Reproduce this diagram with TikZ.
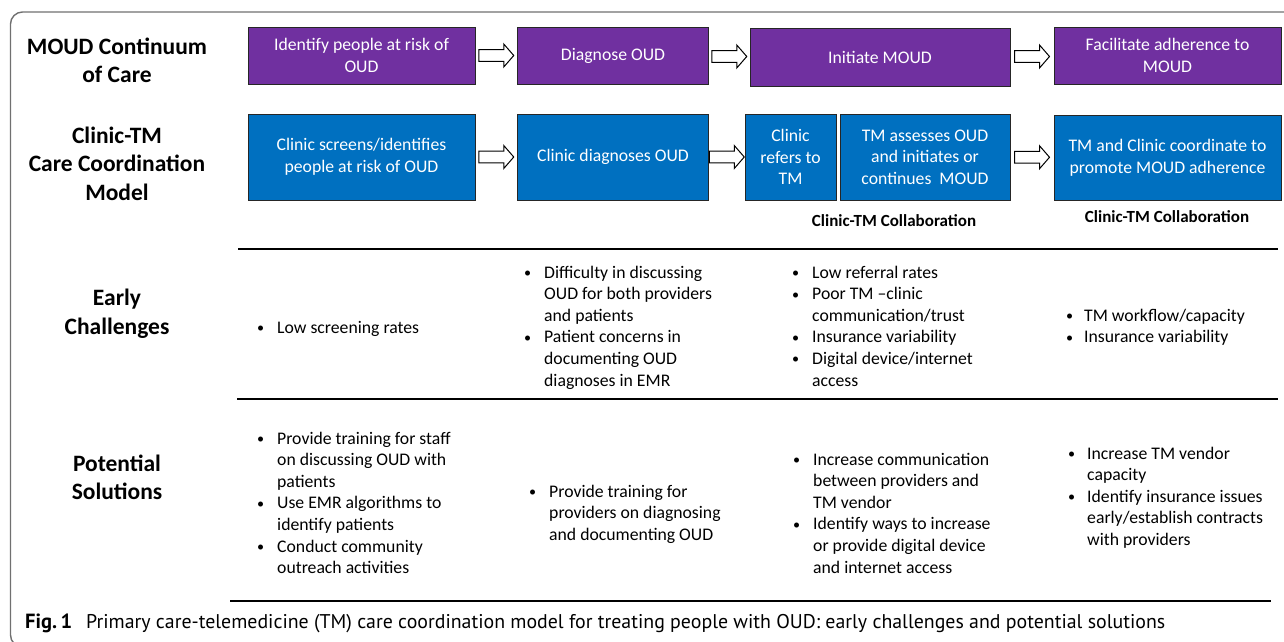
\documentclass[tikz,border=0pt]{standalone}
\usepackage{fontspec}
\setmainfont{Carlito}
\newfontfamily\capfont{PT Sans}
\usetikzlibrary{calc}
\definecolor{moudpurple}{HTML}{7030A0}
\definecolor{tmblue}{HTML}{0070C0}
\definecolor{framegray}{HTML}{707070}
\newcommand\bodyfont{\fontsize{17.7}{21.6}\selectfont}
\newcommand\blockarrow[1]{\draw[arrowshape, shift={(#1)}] (-17.5,-5.8) -- (7.5,-5.8) -- (7.5,-11.5) -- (17.5,0) -- (7.5,11.5) -- (7.5,5.8) -- (-17.5,5.8) -- cycle;}
\tikzset{
  purplebox/.style={draw=black!85, line width=1pt, fill=moudpurple, text=white, align=center, inner sep=0pt, font=\bodyfont},
  bluebox/.style={draw=black!85, line width=1pt, fill=tmblue, text=white, align=center, inner sep=0pt, font=\bodyfont},
  rowlabel/.style={align=center, font=\fontsize{23.5}{28.5}\selectfont\bfseries, inner sep=0pt},
  collab/.style={font=\fontsize{17}{20}\selectfont\bfseries, inner sep=0pt},
  listnode/.style={anchor=base west, inner sep=0pt, font=\bodyfont},
  arrowshape/.style={draw=black, line width=1pt, fill=white},
  sepline/.style={draw=black, line width=1.3pt},
}
\newcommand\bl{\raisebox{0.5pt}{\scalebox{0.8}{\textbullet}}}
\begin{document}
\begin{tikzpicture}[x=1pt,y=-1pt]
\useasboundingbox (0,0) rectangle (1284,641);
% outer frame (open on the right, runs off the page)
\coordinate (fa) at (1284,12);
\coordinate (fb) at (10.5,12);
\coordinate (fc) at (10.5,647);
\coordinate (fd) at (60,647);
\begin{scope}
\clip (0,0) rectangle (1284,641);
\draw[framegray, line width=1.4pt, rounded corners=12pt] (fa) -- (fb) -- (fc) -- (fd);
\end{scope}
% row labels
\node[rowlabel] (l1) at (117,60.5) {MOUD Continuum\\of Care};
\node[rowlabel] (l2) at (117,163.5) {Clinic-TM\\Care Coordination\\Model};
\node[rowlabel] (l3) at (117,313.5) {Early\\Challenges};
\node[rowlabel] (l4) at (117,477.5) {Potential\\Solutions};
% purple row
\node[purplebox, minimum width=227pt, minimum height=57pt] (b1) at (361.5,55.5) {Identify people at risk of\\OUD};
\node[purplebox, minimum width=191pt, minimum height=57pt] (b2) at (613,55.5) {Diagnose OUD};
\node[purplebox, minimum width=260pt, minimum height=58pt] (b3) at (880,57.5) {Initiate MOUD};
\node[purplebox, minimum width=227pt, minimum height=57pt] (b4) at (1167.5,55.5) {Facilitate adherence to\\MOUD};
\blockarrow{$(b1.east)!0.5!(b2.west)$}
\blockarrow{$(b2.east)!0.5!(b3.west)$}
\blockarrow{$(b3.east)!0.5!(b4.west)$}
% blue row
\node[bluebox, minimum width=227pt, minimum height=86pt] (c1) at (361.5,157) {Clinic screens/identifies\\people at risk of OUD};
\node[bluebox, minimum width=191pt, minimum height=86pt] (c2) at (613,157) {Clinic diagnoses OUD};
\node[bluebox, minimum width=91pt, minimum height=86pt] (c3) at (790.5,157) {Clinic\\refers to\\TM};
\node[bluebox, minimum width=170pt, minimum height=86pt] (c4) at (925,157) {TM assesses OUD\\and initiates or\\continues\ \ MOUD};
\node[bluebox, minimum width=227pt, minimum height=85pt] (c5) at (1167.5,157.5) {TM and Clinic coordinate to\\promote MOUD adherence};
\blockarrow{$(c1.east)!0.5!(c2.west)$}
\blockarrow{$(c2.east)!0.5!(c3.west)$}
\blockarrow{$(c4.east)!0.5!(c5.west)$}
\node[collab] (k1) at (894,220.5) {Clinic-TM Collaboration};
\node[collab] (k2) at (1167,216.5) {Clinic-TM Collaboration};
% separator lines
\coordinate (s1a) at (238,249); \coordinate (s1b) at (1278,249);
\coordinate (s2a) at (237,399); \coordinate (s2b) at (1278,399);
\coordinate (s3a) at (230,601); \coordinate (s3b) at (1271,601);
\draw[sepline] (s1a) -- (s1b);
\draw[sepline] (s2a) -- (s2b);
\draw[sepline] (s3a) -- (s3b);
% early challenges
\node[listnode] (e1) at (257,333) {\begin{tabular}[t]{@{}p{20pt}@{}l@{}}\bl & Low screening rates\end{tabular}};
\node[listnode] (e2) at (524,278) {\begin{tabular}[t]{@{}p{20pt}@{}l@{}}
\bl & Difficulty in discussing\\ & OUD for both providers\\ & and patients\\
\bl & Patient concerns in\\ & documenting OUD\\ & diagnoses in EMR\end{tabular}};
\node[listnode] (e3) at (792,278) {\begin{tabular}[t]{@{}p{20pt}@{}l@{}}
\bl & Low referral rates\\
\bl & Poor TM --clinic\\ & communication/trust\\
\bl & Insurance variability\\
\bl & Digital device/internet\\ & access\end{tabular}};
\node[listnode] (e4) at (1066,321) {\begin{tabular}[t]{@{}p{18pt}@{}l@{}}
\bl & TM workflow/capacity\\
\bl & Insurance variability\end{tabular}};
% potential solutions
\node[listnode] (p1) at (257,444) {\begin{tabular}[t]{@{}p{20pt}@{}l@{}}
\bl & Provide training for staff\\ & on discussing OUD with\\ & patients\\
\bl & Use EMR algorithms to\\ & identify patients\\
\bl & Conduct community\\ & outreach activities\end{tabular}};
\node[listnode] (p2) at (529,497) {\begin{tabular}[t]{@{}p{20pt}@{}l@{}}
\bl & Provide training for\\ & providers on diagnosing\\ & and documenting OUD\end{tabular}};
\node[listnode] (p3) at (793,465) {\begin{tabular}[t]{@{}p{20pt}@{}l@{}}
\bl & Increase communication\\ & between providers and\\ & TM vendor\\
\bl & Identify ways to increase\\ & or provide digital device\\ & and internet access\end{tabular}};
\node[listnode] (p4) at (1068,459) {\begin{tabular}[t]{@{}p{19pt}@{}l@{}}
\bl & Increase TM vendor\\ & capacity\\
\bl & Identify insurance issues\\ & early/establish contracts\\ & with providers\end{tabular}};
% caption
\node[anchor=base west, inner sep=0pt, font=\capfont\fontsize{18.5}{22}\selectfont\bfseries] (fig) at (25,628) {\resizebox{47pt}{!}{Fig.\,1}};
\node[anchor=base west, inner sep=0pt, font=\capfont\fontsize{18.5}{22}\selectfont] (cap) at (86,628) {\resizebox{1079pt}{!}{Primary care-telemedicine (TM) care coordination model for treating people with OUD: early challenges and potential solutions}};
\end{tikzpicture}
\end{document}
